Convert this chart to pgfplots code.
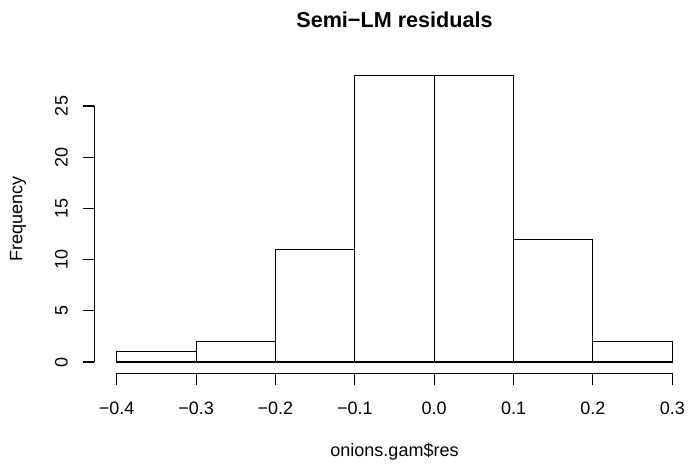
\documentclass[border=0pt]{standalone}
\usepackage{fontspec}
\setmainfont{Liberation Sans}
\usepackage{pgfplots}
\pgfplotsset{compat=1.18}
\tikzset{ylab/.style={rotate=90, anchor=center, inner sep=0pt, font=\fontsize{13.5}{16}\selectfont}}
\begin{document}
\begin{tikzpicture}
\begin{axis}[
  at={(70.875pt,67.875pt)}, anchor=south west,
  scale only axis, width=450pt, height=232.275pt,
  xmin=-0.428, xmax=0.328, ymin=-1.12, ymax=29.12,
  clip=false,
  axis line style={draw=none},
  xtick={-0.4,-0.3,-0.2,-0.1,0,0.1,0.2,0.3},
  xticklabels={−0.4,−0.3,−0.2,−0.1,0.0,0.1,0.2,0.3},
  ytick={0,5,10,15,20,25}, yticklabels={},
  xtick pos=bottom, ytick pos=left, tick align=outside,
  major tick length=8.6pt,
  tick style={black, line width=0.8pt},
  ticklabel style={font=\fontsize{13.5}{16}\selectfont},
  xticklabel style={anchor=center},
  xticklabel shift=17.3pt,
  title={Semi−LM residuals},
  title style={font=\bfseries\fontsize{16.2}{19}\selectfont, at={(axis description cs:0.5,1.116)}, anchor=center},
  xlabel={onions.gam\$res},
  xlabel style={font=\fontsize{13.5}{16}\selectfont, at={(axis description cs:0.5,-0.2536)}, anchor=center},
  ylabel={Frequency},
  ylabel style={font=\fontsize{13.5}{16}\selectfont, at={(axis description cs:-0.1275,0.5)}, anchor=center},
]
\addplot[ybar interval, draw=black, fill=none, line width=0.8pt] coordinates {
  (-0.4,1) (-0.3,2) (-0.2,11) (-0.1,28) (0,28) (0.1,12) (0.2,2) (0.3,2)
};
\draw[line width=0.8pt] (axis cs:-0.4,-1.12) -- (axis cs:0.3,-1.12);
\draw[line width=0.8pt] (axis cs:-0.428,0) -- (axis cs:-0.428,25);
\node[ylab] at (axis cs:-0.4696,0) {0};
\node[ylab] at (axis cs:-0.4696,5) {5};
\node[ylab] at (axis cs:-0.4696,10) {10};
\node[ylab] at (axis cs:-0.4696,15) {15};
\node[ylab] at (axis cs:-0.4696,20) {20};
\node[ylab] at (axis cs:-0.4696,25) {25};
\end{axis}
\pgfresetboundingbox
\path (0,0) rectangle (517.5pt,348pt);
\end{tikzpicture}
\end{document}
